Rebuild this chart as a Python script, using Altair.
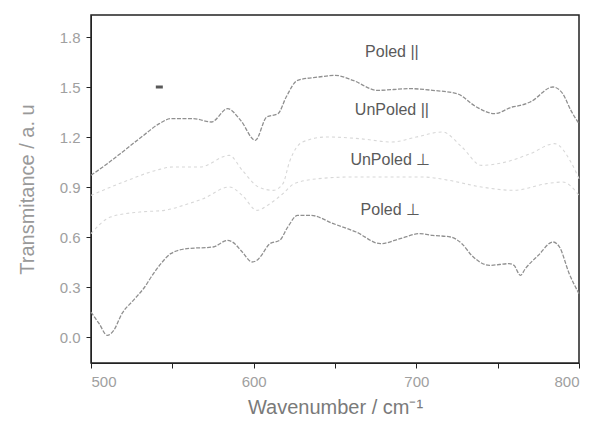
import altair as alt
import pandas as pd

# ---- data ----
poled_par_w = [500, 510, 518, 531, 542, 549, 563, 574, 584, 592, 601, 608, 615, 620, 627, 640, 650, 661, 676, 696, 710, 725, 737, 748, 759, 764, 770, 784, 790, 795, 800]
poled_par_v = [0.97, 1.04, 1.10, 1.20, 1.28, 1.31, 1.31, 1.29, 1.37, 1.30, 1.18, 1.32, 1.34, 1.44, 1.54, 1.56, 1.57, 1.54, 1.48, 1.49, 1.48, 1.46, 1.38, 1.34, 1.38, 1.39, 1.41, 1.50, 1.46, 1.36, 1.28]

unpoled_par_w = [500, 520, 540, 550, 567, 585, 593, 603, 612, 618, 622, 630, 645, 665, 685, 700, 716, 728, 740, 755, 770, 785, 795, 800]
unpoled_par_v = [0.85, 0.93, 1.00, 1.02, 1.02, 1.09, 1.00, 0.90, 0.88, 0.92, 1.05, 1.17, 1.20, 1.19, 1.17, 1.20, 1.23, 1.14, 1.03, 1.05, 1.10, 1.16, 1.05, 0.95]

unpoled_perp_w = [500, 512, 530, 545, 560, 569, 585, 593, 602, 610, 618, 625, 640, 660, 680, 704, 720, 740, 760, 780, 790, 800]
unpoled_perp_v = [0.62, 0.72, 0.75, 0.76, 0.80, 0.83, 0.90, 0.85, 0.76, 0.80, 0.86, 0.92, 0.95, 0.96, 0.96, 0.96, 0.94, 0.90, 0.88, 0.92, 0.93, 0.85]

poled_perp_w = [500, 505, 510, 514, 519, 526, 533, 537, 543, 549, 559, 575, 584, 587, 593, 599, 602, 604, 610, 616, 621, 627, 635, 649, 663, 678, 690, 702, 710, 721, 728, 734, 745, 757, 760, 764, 767, 775, 784, 788, 794, 800]
poled_perp_v = [0.15, 0.08, 0.01, 0.04, 0.14, 0.22, 0.30, 0.36, 0.44, 0.50, 0.53, 0.54, 0.58, 0.57, 0.51, 0.45, 0.46, 0.48, 0.56, 0.58, 0.66, 0.73, 0.73, 0.68, 0.63, 0.56, 0.59, 0.62, 0.61, 0.60, 0.56, 0.49, 0.43, 0.44, 0.43, 0.37, 0.41, 0.49, 0.57, 0.54, 0.38, 0.26]

label_text = ["Poled ||", "UnPoled ||", "UnPoled \u22a5", "Poled \u22a5"]
label_w = [685, 685, 684, 684]
label_v = [1.71, 1.36, 1.06, 0.76]

x_ticks = [500, 550, 600, 650, 700, 750, 800]
y_ticks = [0.0, 0.15, 0.3, 0.45, 0.6, 0.75, 0.9, 1.05, 1.2, 1.35, 1.5, 1.65, 1.8]

mark_w = [542]
mark_v = [1.50]

def frame(name, w, v):
    return pd.DataFrame({"series": name, "w": w, "v": v, "order": range(len(w))})

dark = pd.concat([frame("Poled ||", poled_par_w, poled_par_v),
                  frame("Poled \u22a5", poled_perp_w, poled_perp_v)])
light = pd.concat([frame("UnPoled ||", unpoled_par_w, unpoled_par_v),
                   frame("UnPoled \u22a5", unpoled_perp_w, unpoled_perp_v)])
labels = pd.DataFrame({"t": label_text, "w": label_w, "v": label_v})
blot = pd.DataFrame({"w": mark_w, "v": mark_v})

xs = alt.Scale(domain=[500, 800], nice=False, zero=False)
ys = alt.Scale(domain=[-0.156, 1.932], nice=False, zero=False)

X = alt.X("w:Q", scale=xs, axis=alt.Axis(
    title="Wavenumber / cm\u207b\u00b9", values=x_ticks,
    labelExpr="datum.value % 100 == 0 ? datum.label : ''",
    grid=False, tickSize=5, labelPadding=6, labelFontSize=15, titleFontSize=20,
    titlePadding=8, labelColor="#a0a0a0", titleColor="#7a7a7a", titleFontWeight="normal",
    domainColor="#222", tickColor="#222", labelFont="Liberation Sans", titleFont="Liberation Sans"))
Y = alt.Y("v:Q", scale=ys, axis=alt.Axis(
    title="Transmitance / a. u", values=y_ticks, format=".1f",
    labelExpr="abs(datum.value*10 - round(datum.value*10)) < 0.01 && round(datum.value*10) % 3 == 0 ? datum.label : ''",
    grid=False, tickSize=5, labelPadding=6, labelFontSize=15, titleFontSize=20,
    titlePadding=22, labelColor="#a0a0a0", titleColor="#999999", titleFontWeight="normal",
    domainColor="#222", tickColor="#222", labelFont="Liberation Sans", titleFont="Liberation Sans"))

dark_lines = alt.Chart(dark).mark_line(color="#909090", strokeWidth=1.3, strokeDash=[4, 1.5], interpolate="monotone").encode(
    x=X, y=Y, detail="series:N", order="order:Q")
light_lines = alt.Chart(light).mark_line(color="#d8d8d8", strokeWidth=1.1, strokeDash=[3, 3], interpolate="monotone").encode(
    x=alt.X("w:Q", scale=xs), y=alt.Y("v:Q", scale=ys), detail="series:N", order="order:Q")
texts = alt.Chart(labels).mark_text(fontSize=16, color="#5a5a5a", font="Liberation Sans").encode(
    x=alt.X("w:Q", scale=xs), y=alt.Y("v:Q", scale=ys), text="t:N")
blot_mark = alt.Chart(blot).mark_tick(color="#111", thickness=3, size=7, orient="horizontal").encode(
    x=alt.X("w:Q", scale=xs), y=alt.Y("v:Q", scale=ys))

chart = alt.layer(light_lines, dark_lines, texts, blot_mark).properties(
    width=488, height=348,
    autosize=alt.AutoSizeParams(type="none"),
    padding={"left": 83, "top": 7, "right": 10, "bottom": 60},
).configure_view(stroke="#222", strokeWidth=1.5)

chart.save("out.html", embed_options={"renderer": "svg", "actions": False})
